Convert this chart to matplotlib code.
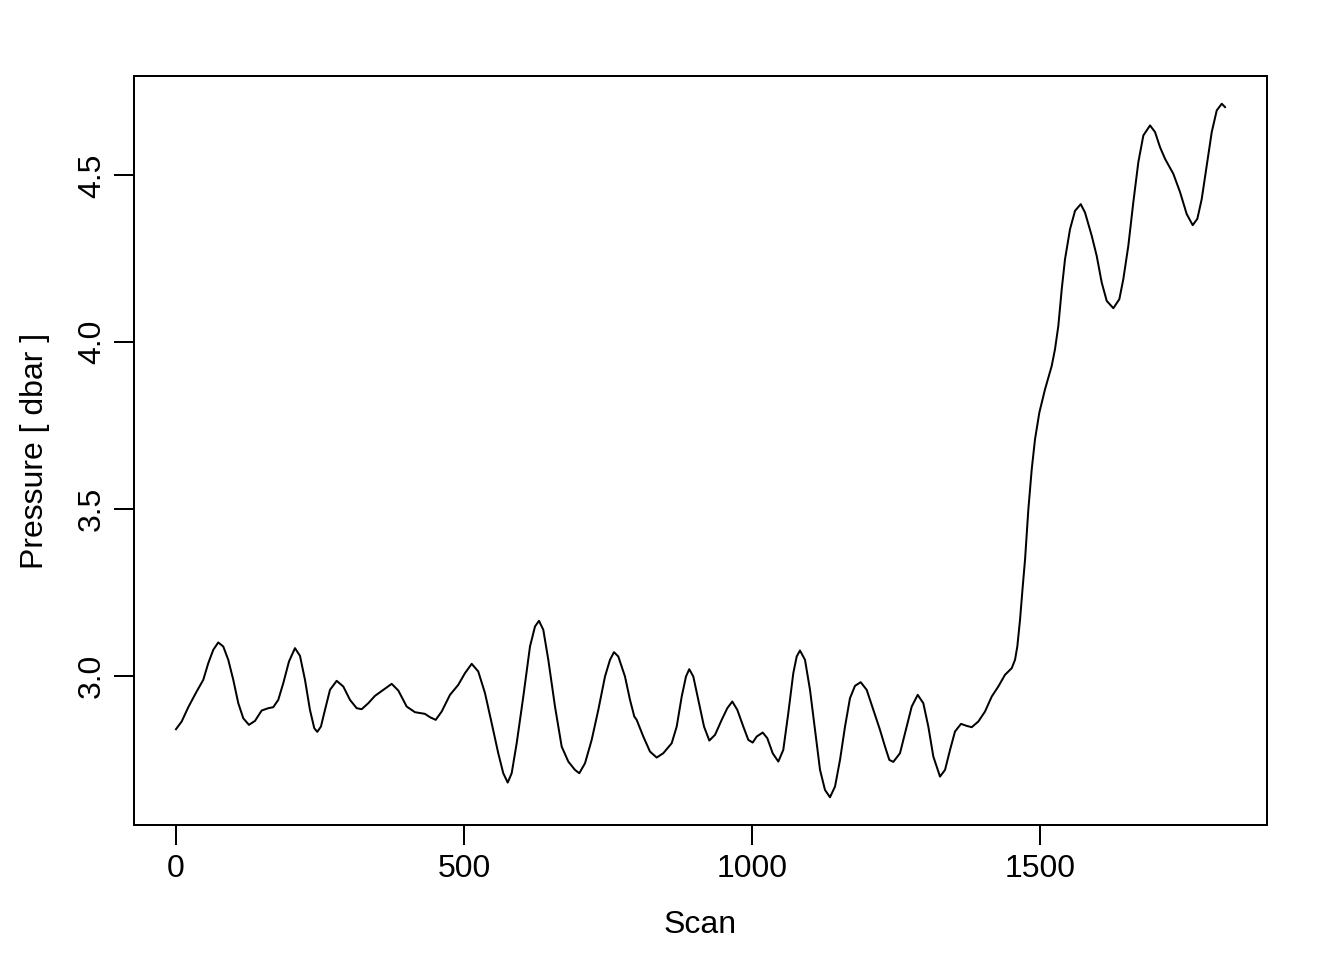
import numpy as np
import matplotlib
matplotlib.use('Agg')
import matplotlib.pyplot as plt

# scan number and pressure
scan = [0, 9.9, 21.4, 35.9, 47.4, 56.1, 64.8, 73.4, 82.1, 90.8, 99.5, 108.2, 116.8, 126.7,
        137.2, 148.8, 160.2, 168.9, 177.6, 186.3, 196.2, 206.6, 215.3, 224.0, 232.6, 240.1,
        245.3, 251.7, 258.7, 267.4, 279.0, 290.5, 302.1, 313.7, 322.4, 333.9, 345.5, 359.9,
        374.5, 386.0, 397.6, 400.5, 414.9, 432.3, 441.0, 450.9, 461.3, 475.7, 490.1, 501.7,
        513.4, 524.8, 536.5, 548.1, 559.5, 568.2, 575.9, 582.8, 591.5, 603.0, 614.6, 623.3,
        630.2, 637.7, 646.4, 658.0, 669.6, 681.1, 692.7, 700.2, 710.1, 721.7, 733.2, 744.8,
        753.5, 760.4, 767.9, 779.5, 788.2, 795.7, 799.8, 811.3, 822.9, 834.5, 846.0, 860.6,
        869.3, 878.0, 885.4, 891.1, 898.1, 906.8, 916.7, 925.9, 935.8, 947.4, 957.1, 965.8,
        974.5, 984.9, 993.6, 1001.2, 1008.2, 1018.6, 1026.6, 1035.9, 1045.7, 1054.3, 1063.0,
        1071.7, 1077.6, 1083.3, 1092.0, 1100.7, 1109.4, 1118.1, 1126.7, 1135.4, 1144.1,
        1152.8, 1161.5, 1170.1, 1178.8, 1188.7, 1199.1, 1210.6, 1222.2, 1230.9, 1238.4,
        1245.3, 1256.9, 1268.6, 1277.3, 1287.7, 1297.4, 1306.1, 1314.8, 1326.4, 1335.1,
        1343.8, 1352.4, 1362.8, 1372.7, 1381.4, 1392.9, 1404.5, 1416.2, 1427.6, 1439.2,
        1450.9, 1456.6, 1460.6, 1465.3, 1470.0, 1474.0, 1479.7, 1485.6, 1491.3, 1498.8,
        1508.7, 1520.3, 1526.0, 1531.8, 1537.7, 1543.4, 1552.1, 1560.8, 1570.7, 1578.1,
        1589.8, 1598.4, 1607.1, 1615.8, 1627.3, 1637.7, 1644.6, 1653.3, 1662.0, 1670.7,
        1679.4, 1691.0, 1699.7, 1708.3, 1717.0, 1731.4, 1743.1, 1754.7, 1765.1, 1773.1,
        1780.7, 1789.4, 1798.1, 1806.8, 1815.5, 1821.2]
pressure = [2.840, 2.863, 2.906, 2.953, 2.988, 3.038, 3.078, 3.100, 3.088, 3.048, 2.988, 2.918,
            2.873, 2.853, 2.865, 2.896, 2.903, 2.906, 2.928, 2.978, 3.043, 3.083, 3.060, 2.988,
            2.898, 2.843, 2.832, 2.848, 2.898, 2.958, 2.985, 2.968, 2.928, 2.903, 2.900, 2.918,
            2.940, 2.958, 2.976, 2.956, 2.918, 2.908, 2.891, 2.886, 2.876, 2.868, 2.893, 2.943,
            2.973, 3.008, 3.036, 3.013, 2.948, 2.858, 2.768, 2.708, 2.680, 2.708, 2.798, 2.938,
            3.088, 3.148, 3.165, 3.138, 3.048, 2.908, 2.788, 2.743, 2.718, 2.708, 2.738, 2.808,
            2.898, 2.998, 3.048, 3.071, 3.058, 2.998, 2.928, 2.878, 2.868, 2.818, 2.773, 2.755,
            2.768, 2.798, 2.848, 2.938, 2.998, 3.020, 2.998, 2.928, 2.848, 2.806, 2.823, 2.868,
            2.903, 2.923, 2.898, 2.848, 2.808, 2.800, 2.818, 2.830, 2.813, 2.768, 2.743, 2.778,
            2.888, 3.008, 3.058, 3.076, 3.048, 2.958, 2.838, 2.718, 2.658, 2.636, 2.668, 2.748,
            2.848, 2.933, 2.970, 2.981, 2.958, 2.898, 2.838, 2.788, 2.748, 2.742, 2.768, 2.848,
            2.908, 2.943, 2.918, 2.848, 2.758, 2.698, 2.718, 2.778, 2.833, 2.856, 2.850, 2.846,
            2.863, 2.893, 2.938, 2.968, 3.003, 3.023, 3.048, 3.088, 3.168, 3.268, 3.348, 3.498,
            3.619, 3.709, 3.789, 3.859, 3.929, 3.979, 4.049, 4.159, 4.249, 4.339, 4.394, 4.414,
            4.389, 4.319, 4.259, 4.179, 4.124, 4.102, 4.129, 4.189, 4.289, 4.420, 4.540, 4.620,
            4.650, 4.630, 4.585, 4.550, 4.505, 4.450, 4.384, 4.351, 4.370, 4.429, 4.529, 4.630,
            4.695, 4.715, 4.705]

x_ticks = [0, 500, 1000, 1500]
y_ticks = [3.0, 3.5, 4.0, 4.5]

plt.rcParams['font.family'] = ['Liberation Sans', 'DejaVu Sans']
plt.rcParams['font.size'] = 12

fig = plt.figure(figsize=(7, 5), dpi=192)
ax = fig.add_axes([134 / 1344, 135 / 960, 1133 / 1344, 749 / 960])

ax.plot(scan, pressure, color='black', linewidth=0.75)

# R style 4% padding
xmin, xmax = min(scan), max(scan)
ymin, ymax = min(pressure), max(pressure)
dx = (xmax - xmin) * 0.04
dy = (ymax - ymin) * 0.04
ax.set_xlim(xmin - dx, xmax + dx)
ax.set_ylim(ymin - dy, ymax + dy)

ax.set_xticks(x_ticks)
ax.set_xticklabels([str(v) for v in x_ticks])
ax.set_yticks(y_ticks)
ax.set_yticklabels([f'{v:.1f}' for v in y_ticks], rotation=90, va='center')

ax.tick_params(axis='both', direction='out', length=7.5, width=0.75, labelsize=12)
ax.tick_params(axis='x', pad=3.4)
ax.tick_params(axis='y', pad=2.6)
for sp in ax.spines.values():
    sp.set_linewidth(0.75)

fig.text(700.5 / 1344, 1 - 933.3 / 960, 'Scan', ha='center', va='baseline', fontsize=12)
fig.text(42.7 / 1344, 1 - 450.5 / 960, 'Pressure [ dbar ]', ha='center', va='baseline',
         rotation=90, rotation_mode='anchor', fontsize=12)

fig.savefig('out.png', dpi=192)
